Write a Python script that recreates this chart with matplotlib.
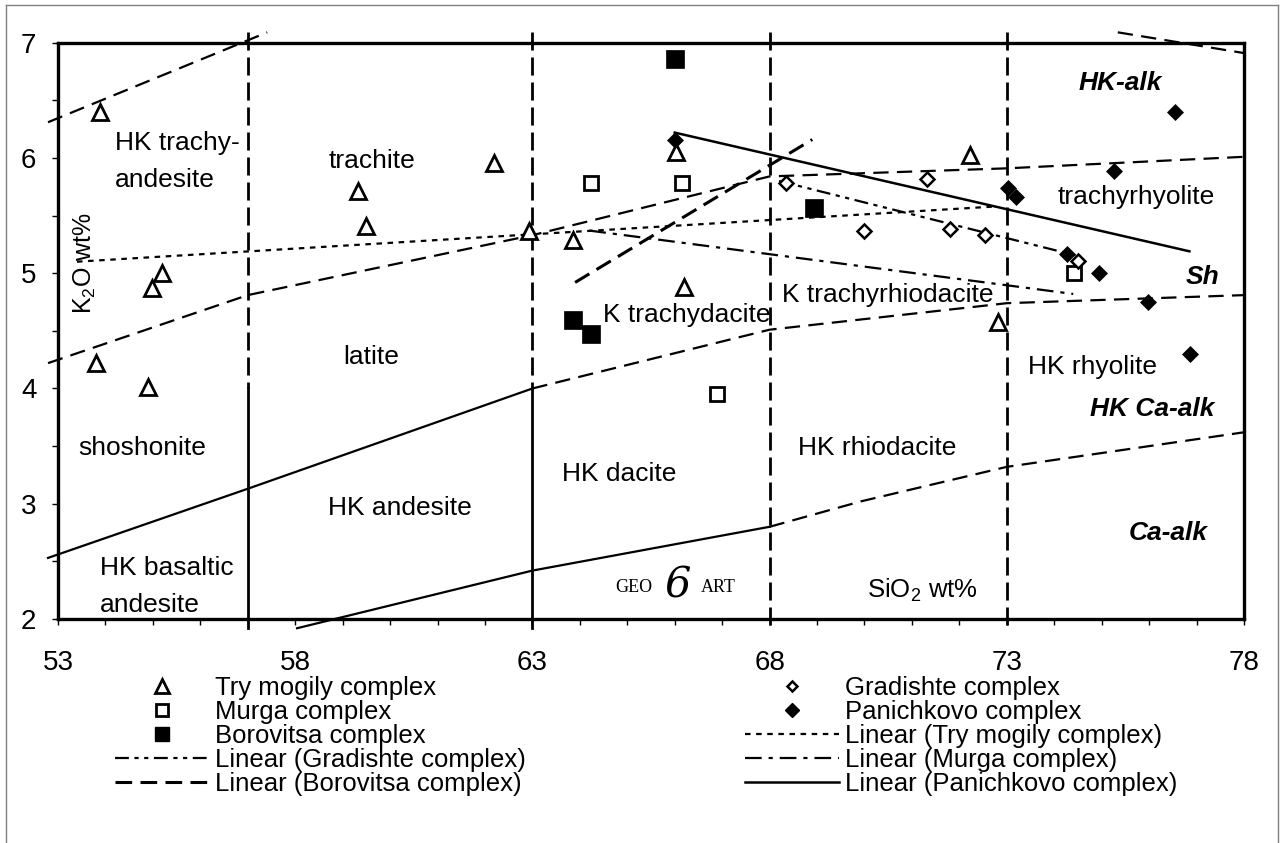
import matplotlib
matplotlib.use("Agg")
import matplotlib.pyplot as plt
from matplotlib.lines import Line2D
import numpy as np

plt.rcParams['font.family'] = ['Liberation Sans', 'DejaVu Sans']
plt.rcParams['lines.scale_dashes'] = False
plt.rcParams['mathtext.fontset'] = 'custom'
plt.rcParams['mathtext.rm'] = 'Liberation Sans'

# ---------------- data ----------------
try_x = [53.89, 55.19, 54.98, 59.33, 59.50, 53.80, 54.90, 62.20, 62.92, 63.86, 66.02, 66.20, 72.22, 72.81]
try_y = [6.40, 5.00, 4.87, 5.71, 5.41, 4.22, 4.01, 5.96, 5.37, 5.29, 6.05, 4.88, 6.03, 4.58]

murga_x = [64.24, 66.16, 66.90, 74.41]
murga_y = [5.78, 5.78, 3.95, 5.00]

borov_x = [66.00, 68.93, 63.86, 64.24]
borov_y = [6.86, 5.57, 4.59, 4.47]

grad_x = [68.34, 69.98, 71.31, 71.80, 72.54, 74.50]
grad_y = [5.78, 5.37, 5.82, 5.38, 5.33, 5.11]

pan_x = [66.00, 73.02, 73.19, 75.26, 76.54, 74.27, 74.94, 75.97, 76.86]
pan_y = [6.16, 5.74, 5.66, 5.89, 6.40, 5.17, 5.00, 4.75, 4.30]

# linear trend lines (end points)
try_trend_x, try_trend_y = [53.4, 72.8], [5.10, 5.58]
grad_trend_x, grad_trend_y = [68.2, 74.5], [5.80, 5.15]
murga_trend_x, murga_trend_y = [64.2, 74.4], [5.37, 4.82]
borov_trend_x, borov_trend_y = [63.9, 68.9], [4.92, 6.16]
pan_trend_x, pan_trend_y = [66.0, 76.85], [6.22, 5.19]

# field boundaries
b_top_left_x, b_top_left_y = [52.79, 57.41], [6.31, 7.09]
b_top_right_x, b_top_right_y = [75.34, 78.0], [7.09, 6.91]
b_alk_x = [52.79, 57.0, 63.0, 68.0, 73.0, 78.0]
b_alk_y = [4.22, 4.81, 5.33, 5.84, 5.91, 6.01]
b_sh_solid_x, b_sh_solid_y = [52.79, 57.0, 63.0], [2.53, 3.13, 4.00]
b_sh_dash_x, b_sh_dash_y = [63.0, 68.0, 73.0, 78.0], [4.00, 4.51, 4.74, 4.81]
b_ca_solid_x, b_ca_solid_y = [58.04, 63.0, 68.0], [1.92, 2.42, 2.80]
b_ca_dash_x, b_ca_dash_y = [68.0, 69.92, 73.0, 78.0], [2.80, 3.02, 3.32, 3.62]
vert_split_x = [57.0, 63.0]        # dashed above, solid below split
vert_split_at = 4.0
vert_dash_x = [68.0, 73.0]
vert_top, vert_bottom = 7.09, 1.92

x_ticks = [53, 58, 63, 68, 73, 78]
y_ticks = [2, 3, 4, 5, 6, 7]

region_labels = [
    ("HK trachy-", 54.20, 6.13), ("andesite", 54.20, 5.81),
    ("trachite", 58.70, 5.97), ("latite", 59.01, 4.27),
    ("shoshonite", 53.42, 3.48), ("HK basaltic", 53.89, 2.44),
    ("andesite", 53.89, 2.12), ("HK andesite", 58.70, 2.96),
    ("K trachydacite", 64.48, 4.64), ("HK dacite", 63.63, 3.26),
    ("K trachyrhiodacite", 68.27, 4.81), ("HK rhiodacite", 68.59, 3.48),
    ("trachyrhyolite", 74.08, 5.66), ("HK rhyolite", 73.44, 4.19),
]
series_labels = [("HK-alk", 74.52, 6.65), ("Sh", 76.78, 4.97),
                 ("HK Ca-alk", 74.75, 3.82), ("Ca-alk", 75.57, 2.75)]

# ---------------- figure ----------------
fig = plt.figure(figsize=(12.81, 8.43), dpi=100)
ax = fig.add_axes([58/1281, 1-619/843, (1244-58)/1281, (619-42.7)/843])
ax.set_xlim(53, 78)
ax.set_ylim(2, 7)

LW_B = 1.6
dash_v = (0, (13, 5))
dash_b = (0, (11, 6))

kw = dict(color='black', clip_on=False, zorder=2)
for xv in vert_split_x:
    ax.plot([xv, xv], [vert_top, vert_split_at], lw=2.0, ls=dash_v, **kw)
    ax.plot([xv, xv], [vert_split_at, vert_bottom], lw=2.0, **kw)
for xv in vert_dash_x:
    ax.plot([xv, xv], [vert_top, vert_bottom], lw=2.0, ls=dash_v, **kw)

ax.plot(b_top_left_x, b_top_left_y, lw=LW_B, ls=dash_b, **kw)
ax.plot(b_top_right_x, b_top_right_y, lw=LW_B, ls=dash_b, **kw)
ax.plot(b_alk_x, b_alk_y, lw=LW_B, ls=dash_b, **kw)
ax.plot(b_sh_solid_x, b_sh_solid_y, lw=LW_B, **kw)
ax.plot(b_sh_dash_x, b_sh_dash_y, lw=LW_B, ls=dash_b, **kw)
ax.plot(b_ca_solid_x, b_ca_solid_y, lw=LW_B, **kw)
ax.plot(b_ca_dash_x, b_ca_dash_y, lw=LW_B, ls=dash_b, **kw)

# trend lines
st_try = (0, (4, 4))
st_grad = (0, (10, 4, 3, 4, 3, 4))
st_murga = (0, (12, 5, 3, 5))
st_borov = (0, (12, 6))
ax.plot(try_trend_x, try_trend_y, color='black', lw=1.6, ls=st_try, zorder=3)
ax.plot(grad_trend_x, grad_trend_y, color='black', lw=1.6, ls=st_grad, zorder=3)
ax.plot(murga_trend_x, murga_trend_y, color='black', lw=1.6, ls=st_murga, zorder=3)
ax.plot(borov_trend_x, borov_trend_y, color='black', lw=2.2, ls=st_borov, zorder=3)
ax.plot(pan_trend_x, pan_trend_y, color='black', lw=1.8, ls='-', zorder=3)

# points
ax.plot(try_x, try_y, ls='none', marker='^', ms=12, mfc='white', mec='black', mew=2.0, zorder=5)
ax.plot(murga_x, murga_y, ls='none', marker='s', ms=10.5, mfc='white', mec='black', mew=2.0, zorder=5)
ax.plot(borov_x, borov_y, ls='none', marker='s', ms=13, mfc='black', mec='black', mew=0.5, zorder=5)
ax.plot(grad_x, grad_y, ls='none', marker='D', ms=7, mfc='white', mec='black', mew=1.8, zorder=5)
ax.plot(pan_x, pan_y, ls='none', marker='D', ms=8.5, mfc='black', mec='black', mew=0.5, zorder=6)

# labels
for t, x, y in region_labels:
    ax.text(x, y, t, fontsize=19, ha='left', va='center', zorder=7)
for t, x, y in series_labels:
    ax.text(x, y, t, fontsize=19, ha='left', va='center', fontweight='bold', style='italic', zorder=7)
ax.text(53.57, 5.09, 'K$_2$O wt%', fontsize=18, rotation=90, ha='center', va='center')
ax.text(70.05, 2.25, 'SiO$_2$ wt%', fontsize=18.5, ha='left', va='center')
ax.text(64.75, 2.27, 'GEO', fontsize=13, ha='left', va='center', family='Liberation Serif')
ax.text(66.08, 2.29, '6', fontsize=30, ha='center', va='center', family='DejaVu Serif', style='italic')
ax.text(66.54, 2.27, 'ART', fontsize=13, ha='left', va='center', family='Liberation Serif')

# axes styling
for s in ax.spines.values():
    s.set_linewidth(2.4)
ax.set_xticks(x_ticks)
ax.set_xticks(np.arange(53, 79, 1), minor=True)
ax.set_yticks(y_ticks)
ax.set_yticks(np.arange(2, 7.01, 0.5), minor=True)
ax.tick_params(which='both', direction='out', length=4.5, width=1.0)
ax.tick_params(axis='x', which='major', labelsize=20, pad=18)
ax.tick_params(axis='y', which='major', labelsize=20, pad=11)

# legend
h = [
    Line2D([], [], ls='none', marker='^', ms=12, mfc='white', mec='black', mew=2.0),
    Line2D([], [], ls='none', marker='s', ms=10.5, mfc='white', mec='black', mew=2.0),
    Line2D([], [], ls='none', marker='s', ms=13, mfc='black', mec='black'),
    Line2D([], [], color='black', lw=1.6, ls=st_grad),
    Line2D([], [], color='black', lw=2.2, ls=st_borov),
    Line2D([], [], ls='none', marker='D', ms=7, mfc='white', mec='black', mew=1.8),
    Line2D([], [], ls='none', marker='D', ms=8.5, mfc='black', mec='black'),
    Line2D([], [], color='black', lw=1.6, ls=st_try),
    Line2D([], [], color='black', lw=1.6, ls=st_murga),
    Line2D([], [], color='black', lw=1.8, ls='-'),
]
labels = ['Try mogily complex', 'Murga complex', 'Borovitsa complex',
          'Linear (Gradishte complex)', 'Linear (Borovitsa complex)',
          'Gradishte complex', 'Panichkovo complex', 'Linear (Try mogily complex)',
          'Linear (Murga complex)', 'Linear (Panichkovo complex)']
fig.legend(h, labels, ncol=2, loc='upper left', bbox_to_anchor=(115/1281, 1-676/843),
           frameon=False, fontsize=18.5, markerscale=0.8, handlelength=3.65,
           handletextpad=0.23, columnspacing=8.55, labelspacing=0.0, borderpad=0,
           borderaxespad=0)

# outer frame
fc = '#808080'
fig.add_artist(Line2D([6/1281, 6/1281], [0, 1-5/843], color=fc, lw=1, transform=fig.transFigure))
fig.add_artist(Line2D([6/1281, 1278/1281], [1-5/843, 1-5/843], color=fc, lw=1, transform=fig.transFigure))
fig.add_artist(Line2D([1278/1281, 1278/1281], [0, 1-5/843], color=fc, lw=1, transform=fig.transFigure))

fig.savefig('out.png', dpi=100)
